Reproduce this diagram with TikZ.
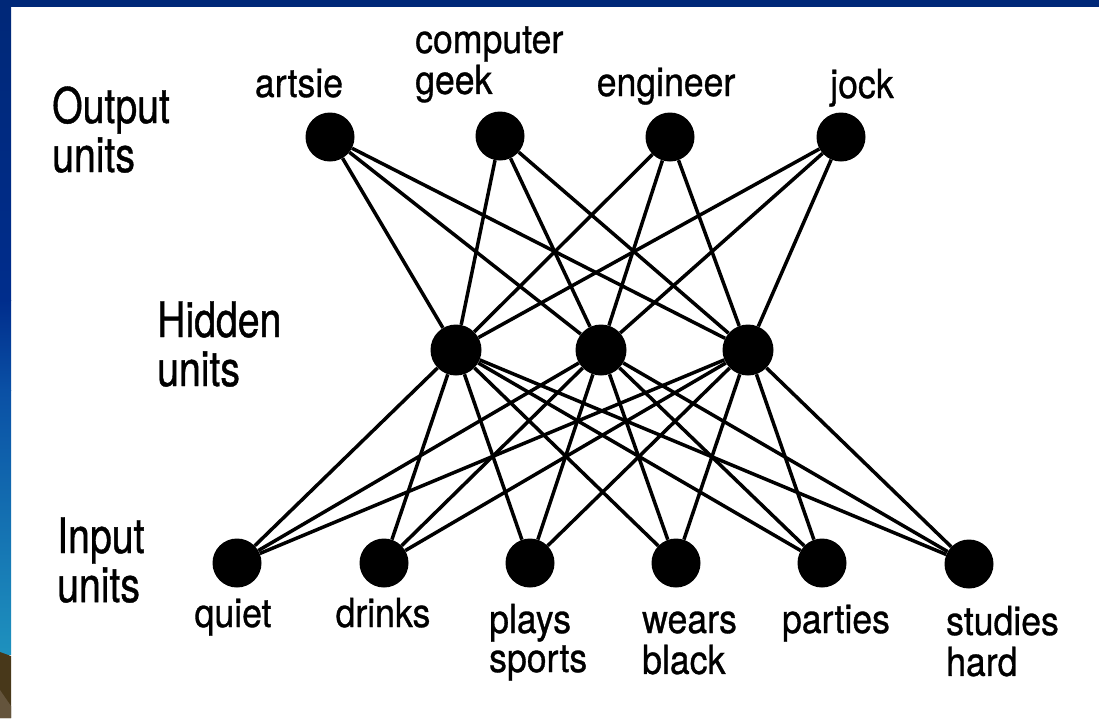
\documentclass[tikz,border=0pt]{standalone}
\usepackage{fontspec}
\newfontfamily\headfont[FakeStretch=0.8,FakeBold=0.8]{TeX Gyre Heros}
\newfontfamily\labfont[FakeStretch=0.89,FakeBold=0.8]{TeX Gyre Heros}
\definecolor{navy}{RGB}{0,40,120}
\definecolor{navyb}{RGB}{0,45,140}
\definecolor{midblue}{RGB}{10,80,165}
\definecolor{cyanblue}{RGB}{30,145,190}
\definecolor{brownd}{RGB}{72,56,26}
\definecolor{brownl}{RGB}{100,84,60}
\tikzset{
  unit/.style={circle, fill=black, draw=none, minimum size=49pt, inner sep=0pt},
  hunit/.style={unit, minimum size=51pt},
  link/.style={line width=3.5pt, black},
  head/.style={anchor=base west, inner sep=0pt, font=\headfont\fontsize{49}{48}\selectfont},
  lab/.style={inner sep=0pt, font=\labfont\fontsize{40}{39}\selectfont},
}
\newcommand{\twoline}[2]{\begin{tabular}[t]{@{}l@{}}#1\\#2\end{tabular}}
\begin{document}
\begin{tikzpicture}[x=1pt,y=-1pt]
\useasboundingbox (0,0) rectangle (1099,718);
\fill[white] (0,0) rectangle (1099,718);
% frame
\fill[navy] (0,0) rectangle (1099,7);
\shade[top color=navy, bottom color=navyb] (0,0) rectangle (11,300);
\shade[top color=navyb, bottom color=midblue] (0,300) rectangle (11,390);
\shade[top color=midblue, bottom color=cyanblue] (0,390) rectangle (11,654);
\fill[brownd] (0,652) -- (11,656) -- (11,718) -- (0,718) -- cycle;
\fill[brownl] (0,690) -- (11,706) -- (11,718) -- (0,718) -- cycle;

% layer titles
\node[head] (tout) at (52,123) {\twoline{Output}{units}};
\node[head] (thid) at (157,337) {\twoline{Hidden}{units}};
\node[head] (tin) at (57,553) {\twoline{Input}{units}};

% output units
\node[unit] (o1) at (330,137) {};
\node[unit] (o2) at (500,136) {};
\node[unit] (o3) at (670,137) {};
\node[unit] (o4) at (841,137) {};
% hidden units
\node[hunit] (h1) at (456,350) {};
\node[hunit] (h2) at (601,350) {};
\node[hunit] (h3) at (748,350) {};
% input units
\node[unit] (i1) at (237,563) {};
\node[unit] (i2) at (384,563) {};
\node[unit] (i3) at (530,563) {};
\node[unit] (i4) at (676,563) {};
\node[unit] (i5) at (822,563) {};
\node[unit] (i6) at (969,564) {};

% connections
\foreach \o in {1,2,3,4}
  \foreach \h in {1,2,3}
    \draw[link] (o\o) -- (h\h);
\foreach \h in {1,2,3}
  \foreach \i in {1,2,3,4,5,6}
    \draw[link] (h\h) -- (i\i);

% output labels
\node[lab, anchor=base] (l1) at (299,97) {artsie};
\node[lab, anchor=base west] (l2) at (415,53) {\twoline{computer}{geek}};
\node[lab, anchor=base] (l3) at (666,96) {engineer};
\node[lab, anchor=base] (l4) at (862,98) {jock};
% input labels
\node[lab, anchor=base] (q1) at (233,627) {quiet};
\node[lab, anchor=base] (q2) at (383,627) {drinks};
\node[lab, anchor=base west] (q3) at (489,633) {\twoline{plays}{sports}};
\node[lab, anchor=base west] (q4) at (642,633) {\twoline{wears}{black}};
\node[lab, anchor=base] (q5) at (836,633) {parties};
\node[lab, anchor=base west] (q6) at (946,635) {\twoline{studies}{hard}};
\end{tikzpicture}
\end{document}
